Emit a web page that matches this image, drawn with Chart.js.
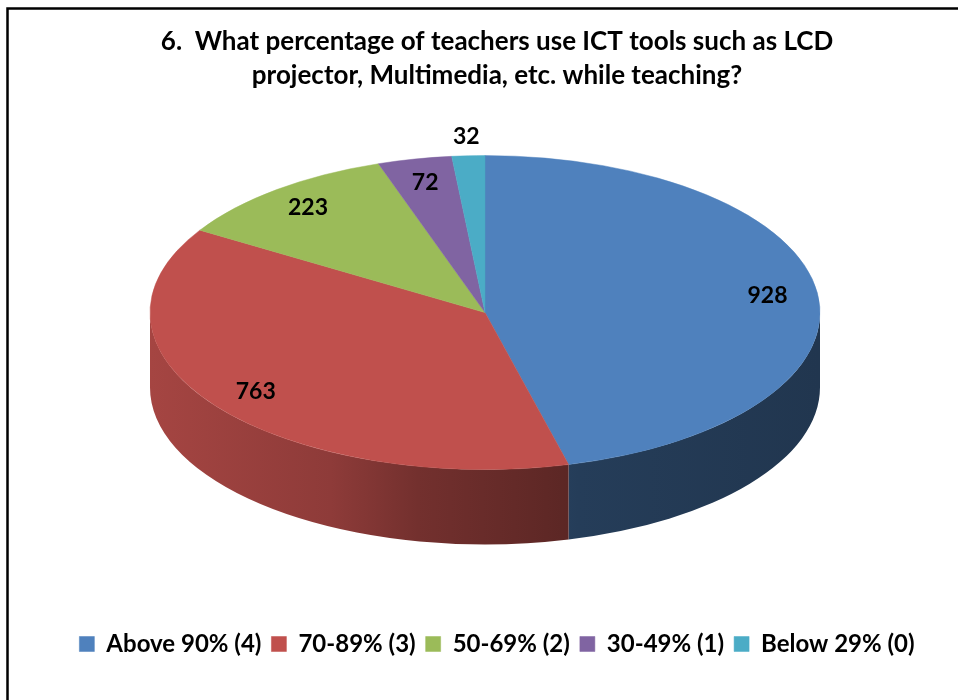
<!DOCTYPE html>
<html>
<head>
<meta charset="utf-8">
<script src="https://cdn.jsdelivr.net/npm/chart.js@4.4.1/dist/chart.umd.min.js"></script>
<style>
  html, body { margin: 0; padding: 0; background: #fff; }
  canvas { display: block; }
</style>
</head>
<body>
<canvas id="c" width="958" height="700"></canvas>
<script>
// ---- data ----
const categories = ['Above 90% (4)', '70-89% (3)', '50-69% (2)', '30-49% (1)', 'Below 29% (0)'];
const counts = [928, 763, 223, 72, 32];
const titleLines = ['6.  What percentage of teachers use ICT tools such as LCD', 'projector, Multimedia, etc. while teaching?'];

// ---- style ----
const sliceColors = ['#4F81BD', '#C0504D', '#9BBB59', '#8064A2', '#4BACC6'];
const FONT = 'Lato, "Open Sans", sans-serif';
const RX = 335, RY = 157, DEPTH = 75;   // projected ellipse radii and wall depth
const SHIFT_X = -12, SHIFT_Y = -50;      // shift of the projected pie from chart-area centre

function shade(hex, f) {
  const n = parseInt(hex.slice(1), 16);
  const r = Math.round(((n >> 16) & 255) * f), g = Math.round(((n >> 8) & 255) * f), b = Math.round((n & 255) * f);
  return `rgb(${r},${g},${b})`;
}

function geom(chart) {
  const arcs = chart.getDatasetMeta(0).data;
  const a0 = arcs[0];
  return { arcs, ox: a0.x, oy: a0.y, R: a0.outerRadius, cx: a0.x + SHIFT_X, cy: a0.y + SHIFT_Y };
}

const framePlugin = {
  id: 'frame',
  beforeDraw(chart) {
    const ctx = chart.ctx;
    ctx.save();
    ctx.fillStyle = '#fff';
    ctx.fillRect(0, 0, chart.width, chart.height);
    ctx.strokeStyle = '#000';
    ctx.lineWidth = 2.5;
    ctx.beginPath();
    ctx.moveTo(7.5, chart.height + 5);
    ctx.lineTo(7.5, 8.5);
    ctx.lineTo(chart.width + 5, 8.5);
    ctx.stroke();
    ctx.restore();
  }
};

const pie3d = {
  id: 'pie3d',
  beforeDatasetsDraw(chart) {
    const ctx = chart.ctx;
    const g = geom(chart);
    ctx.save();
    // side walls (front half only)
    g.arcs.forEach((arc, i) => {
      const a = Math.max(arc.startAngle, 0), b = Math.min(arc.endAngle, Math.PI);
      if (b <= a) return;
      const grad = ctx.createLinearGradient(g.cx - RX, 0, g.cx + RX, 0);
      const c = sliceColors[i];
      grad.addColorStop(0, shade(c, 0.86));
      grad.addColorStop(0.27, shade(c, 0.74));
      grad.addColorStop(0.40, shade(c, 0.60));
      grad.addColorStop(0.64, shade(c, 0.47));
      grad.addColorStop(1, shade(c, 0.42));
      ctx.beginPath();
      ctx.ellipse(g.cx, g.cy, RX, RY, 0, a, b, false);
      ctx.ellipse(g.cx, g.cy + DEPTH, RX, RY, 0, b, a, true);
      ctx.closePath();
      ctx.fillStyle = grad;
      ctx.fill();
    });
    // project the library's circular pie onto the ellipse
    ctx.translate(g.cx, g.cy);
    ctx.scale(RX / g.R, RY / g.R);
    ctx.translate(-g.ox, -g.oy);
  },
  afterDatasetsDraw(chart) {
    const ctx = chart.ctx;
    ctx.restore();
    const g = geom(chart);
    const total = counts.reduce((s, v) => s + v, 0);
    ctx.save();
    ctx.fillStyle = '#000';
    ctx.font = 'bold 23px ' + FONT;
    ctx.textAlign = 'center';
    ctx.textBaseline = 'middle';
    g.arcs.forEach((arc, i) => {
      const mid = (arc.startAngle + arc.endAngle) / 2;
      const f = counts[i] / total < 0.025 ? 1.12 : 0.85;
      ctx.fillText(String(counts[i]), g.cx + RX * f * Math.cos(mid), g.cy + RY * f * Math.sin(mid));
    });
    ctx.restore();
  }
};

new Chart(document.getElementById('c'), {
  type: 'pie',
  data: {
    labels: categories,
    datasets: [{
      data: counts,
      backgroundColor: sliceColors,
      borderColor: sliceColors,
      borderWidth: 0.5,
      hoverOffset: 0,
      offset: 0,
      clip: false
    }]
  },
  options: {
    responsive: false,
    animation: false,
    events: [],
    layout: { padding: { left: 36, right: 0, top: 0, bottom: 34 } },
    plugins: {
      title: {
        display: true,
        text: titleLines,
        color: '#000',
        font: { family: FONT, size: 26, weight: 'bold', lineHeight: 1.31 },
        padding: { top: 25, bottom: 10 }
      },
      legend: {
        position: 'bottom',
        labels: {
          color: '#000',
          boxWidth: 15,
          boxHeight: 15,
          padding: 10,
          font: { family: FONT, size: 24, weight: 'bold' }
        }
      },
      tooltip: { enabled: false }
    }
  },
  plugins: [framePlugin, pie3d]
});
</script>
</body>
</html>
